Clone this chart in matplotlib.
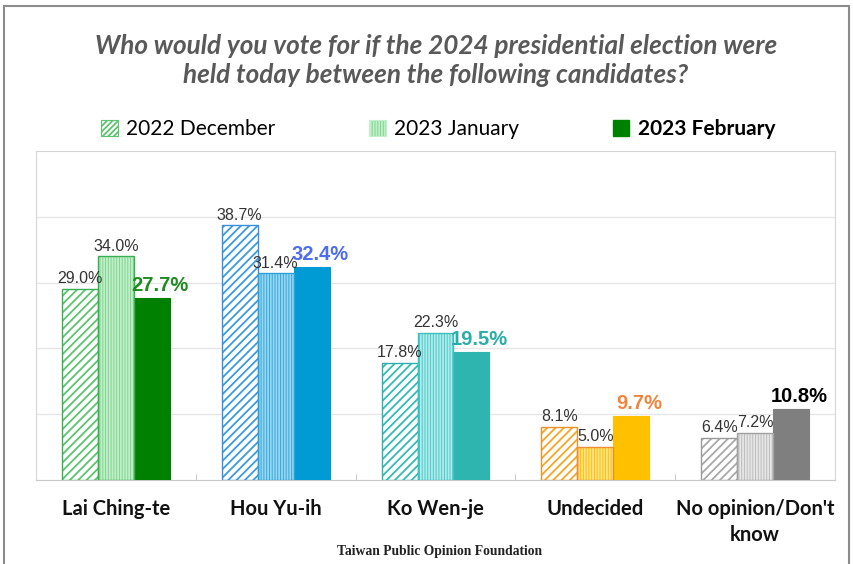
import matplotlib
matplotlib.use("Agg")
import matplotlib.pyplot as plt
from matplotlib.patches import Rectangle, Patch
import numpy as np

categories = ["Lai Ching-te", "Hou Yu-ih", "Ko Wen-je", "Undecided", "No opinion/Don't\nknow"]
series_names = ["2022 December", "2023 January", "2023 February"]
dec_2022 = [29.0, 38.7, 17.8, 8.1, 6.4]
jan_2023 = [34.0, 31.4, 22.3, 5.0, 7.2]
feb_2023 = [27.7, 32.4, 19.5, 9.7, 10.8]

dec_hatch = ["#5cc46e", "#3a9be0", "#33bbb5", "#f5a623", "#a8a8a8"]
dec_edge = ["#3aae55", "#3a8fdc", "#2fb0aa", "#f0902a", "#9a9a9a"]
jan_face = ["#7fd68f", "#30a8de", "#4cc9c9", "#ffc000", "#bdbdbd"]
jan_hatch = ["#c2eec9", "#9ad6f0", "#b0eaea", "#ffe28a", "#e6e6e6"]
jan_edge = ["#3aae55", "#2f9fd8", "#3cc0c0", "#f08c30", "#a0a0a0"]
feb_face = ["#008000", "#009ad5", "#2eb5b0", "#ffc000", "#7f7f7f"]
feb_label = ["#1f8a1f", "#4d6df0", "#2aada8", "#f0863c", "#000000"]

plt.rcParams['hatch.linewidth'] = 1.3
FONT = ['Lato', 'DejaVu Sans']

fig = plt.figure(figsize=(8.54, 5.64), dpi=100)
W, H = 854, 564
ax = fig.add_axes([36 / W, 84 / H, 799 / W, 329 / H])

x = np.arange(len(categories))
bw = 0.225
offs = [-bw, 0, bw]

for i in range(len(categories)):
    # Dec: white face, coloured diagonal hatch
    ax.bar(x[i] + offs[0], dec_2022[i], bw, facecolor="white", edgecolor=dec_hatch[i],
           hatch="////", linewidth=0, zorder=3)
    ax.bar(x[i] + offs[0], dec_2022[i], bw, fill=False, edgecolor=dec_edge[i], linewidth=1.0, zorder=4)
    # Jan: coloured face, light vertical hatch
    ax.bar(x[i] + offs[1], jan_2023[i], bw, facecolor=jan_face[i], edgecolor=jan_hatch[i],
           hatch="||||||", linewidth=0, zorder=3)
    ax.bar(x[i] + offs[1], jan_2023[i], bw, fill=False, edgecolor=jan_edge[i], linewidth=1.0, zorder=4)
    # Feb: solid
    ax.bar(x[i] + offs[2], feb_2023[i], bw, facecolor=feb_face[i], edgecolor=feb_face[i],
           linewidth=0.8, zorder=3)

for i in range(len(categories)):
    ax.annotate(f"{dec_2022[i]:.1f}%", (x[i] + offs[0], dec_2022[i]), xytext=(0, 2),
                textcoords="offset points", ha="center", va="bottom", fontsize=11.5,
                color="#333333", family=['Liberation Sans'], zorder=6)
    ax.annotate(f"{jan_2023[i]:.1f}%", (x[i] + offs[1], jan_2023[i]), xytext=(0, 2),
                textcoords="offset points", ha="center", va="bottom", fontsize=11.5,
                color="#333333", family=['Liberation Sans'], zorder=6)
    ax.annotate(f"{feb_2023[i]:.1f}%", (x[i] + offs[2], feb_2023[i]), xytext=(6, 2),
                textcoords="offset points", ha="center", va="bottom", fontsize=14.5,
                fontweight="bold", color=feb_label[i], family=['Liberation Sans'], zorder=6)

ax.set_xlim(-0.5, len(categories) - 0.5)
ax.set_ylim(0, 50)
ax.set_yticks([10, 20, 30, 40])
ax.yaxis.grid(True, color="#e6e6e6", linewidth=1.0, zorder=0)
ax.tick_params(axis="y", length=0, labelleft=False)
ax.set_xticks(x)
ax.set_xticklabels(categories, fontsize=14.5, fontweight="bold", family=FONT, color="#111111",
                   linespacing=1.35)
ax.tick_params(axis="x", which="major", length=0, pad=14)
ax.set_xticks(np.arange(-0.5, len(categories), 1), minor=True)
ax.tick_params(axis="x", which="minor", length=4, direction="in", color="#bbbbbb")
for s in ["left", "right", "top"]:
    ax.spines[s].set_color("#d6d6d6")
ax.spines["bottom"].set_color("#c8c8c8")
ax.set_axisbelow(True)

# Title
fig.text(436 / W, 1 - 46 / H, "Who would you vote for if the 2024 presidential election were",
         ha="center", va="center", fontsize=18.8, fontweight="bold", fontstyle="italic",
         color="#595959", family=FONT)
fig.text(436 / W, 1 - 75 / H, "held today between the following candidates?",
         ha="center", va="center", fontsize=18.8, fontweight="bold", fontstyle="italic",
         color="#595959", family=FONT)

# Legend
handles = [
    Patch(facecolor="white", edgecolor="#5cc46e", hatch="//////", linewidth=0.8),
    Patch(facecolor="#7fd68f", edgecolor="#c2eec9", hatch="||||||", linewidth=0.8),
    Patch(facecolor="#008000", edgecolor="#008000"),
]
leg = fig.legend(handles, series_names, loc="center", bbox_to_anchor=(438 / W, 1 - 129 / H),
                 ncol=3, frameon=False, columnspacing=4.5, handlelength=0.8, handleheight=0.8,
                 handletextpad=0.4, prop={'family': FONT, 'size': 15})
leg.get_texts()[2].set_fontweight("bold")

# Footer
fig.text(440 / W, 1 - 551 / H, "Taiwan Public Opinion Foundation", ha="center", va="center",
         fontsize=9.8, fontweight="bold", family=['Liberation Serif'], color="#222222")

# Outer frame
fig.patches.append(Rectangle((4 / W, -0.02), 845 / W, 1 - 6 / H + 0.02, transform=fig.transFigure,
                             fill=False, edgecolor="#8c8c8c", linewidth=1.5, clip_on=False))

fig.savefig("out.png", dpi=100)
